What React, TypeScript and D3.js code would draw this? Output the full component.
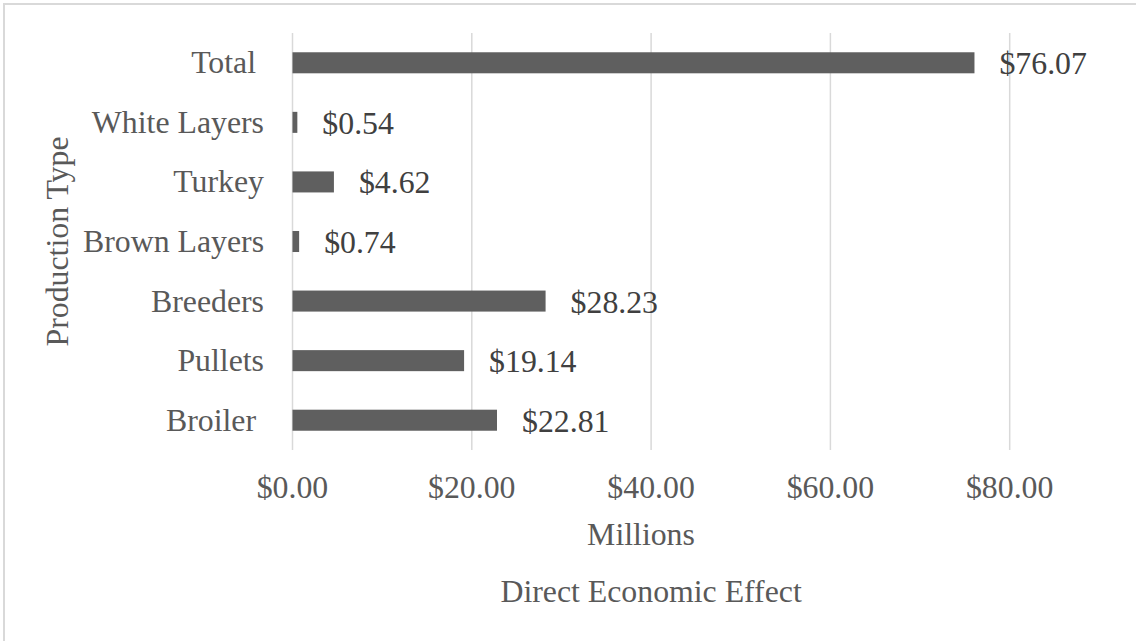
import React from "react";
import * as d3 from "d3";

const categories = ["Total ", "White Layers", "Turkey", "Brown Layers", "Breeders", "Pullets", "Broiler "];
const values = [76.07, 0.54, 4.62, 0.74, 28.23, 19.14, 22.81];
const xTicks = [0, 20, 40, 60, 80];
const yTitle = "Production Type";
const xTitle1 = "Millions";
const xTitle2 = "Direct Economic Effect";

const W = 1136;
const H = 641;
const FONT = "'Liberation Serif', 'Times New Roman', Times, serif";

export default function App() {
  const x = d3.scaleLinear().domain([0, 80]).range([292.5, 1009.7]);
  const y = d3.scaleBand<string>().domain(categories).range([33, 450]).padding(0);
  const barH = y.bandwidth() * 0.353;
  const fmt = (v: number) => "$" + d3.format(".2f")(v);
  const plotMid = (x(0) + x(80)) / 2;

  return (
    <svg
      width={W}
      height={H}
      style={{ position: "fixed", left: 0, top: 0, background: "#fff" }}
      fontFamily={FONT}
    >
      <rect x={0} y={0} width={W} height={H} fill="#fff" />
      <rect x={4} y={4} width={W + 20} height={H + 20} fill="none" stroke="#d9d9d9" strokeWidth={2} />
      {xTicks.map((t) => (
        <line key={"g" + t} x1={x(t)} x2={x(t)} y1={33} y2={450} stroke="#d9d9d9" strokeWidth={1.5} />
      ))}
      {categories.map((c, i) => {
        const cy = (y(c) as number) + y.bandwidth() / 2;
        return (
          <g key={c}>
            <rect x={x(0)} y={cy - barH / 2} width={x(values[i]) - x(0)} height={barH} fill="#5f5f5f" />
            <text
              x={264}
              y={cy}
              dy="0.33em"
              textAnchor="end"
              fontSize={31.8}
              fill="#595959"
              style={{ whiteSpace: "pre" }}
            >
              {c}
            </text>
            <text x={x(values[i]) + 25} y={cy} dy="0.36em" fontSize={31.8} fill="#404040">
              {fmt(values[i])}
            </text>
          </g>
        );
      })}
      {xTicks.map((t) => (
        <text key={"t" + t} x={x(t)} y={498} textAnchor="middle" fontSize={31.8} fill="#595959">
          {fmt(t)}
        </text>
      ))}
      <text x={641} y={545} textAnchor="middle" fontSize={31.8} fill="#595959">
        {xTitle1}
      </text>
      <text x={plotMid} y={602} textAnchor="middle" fontSize={31.8} fill="#595959">
        {xTitle2}
      </text>
      <text
        transform={`translate(68, 241.5) rotate(-90)`}
        textAnchor="middle"
        fontSize={31.8}
        fill="#595959"
      >
        {yTitle}
      </text>
    </svg>
  );
}
